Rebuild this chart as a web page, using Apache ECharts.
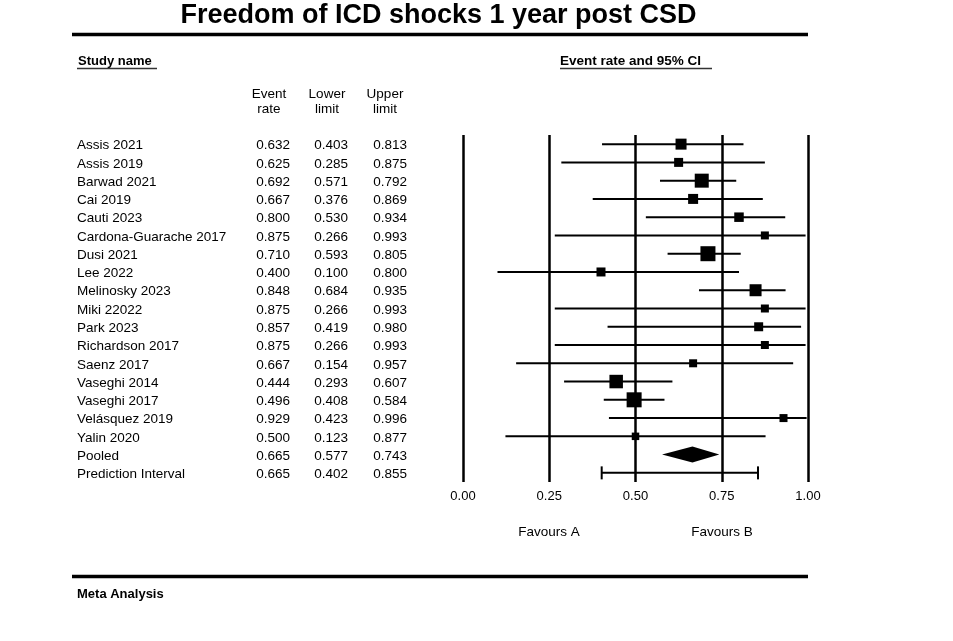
<!DOCTYPE html>
<html>
<head>
<meta charset="utf-8">
<script src="https://cdn.jsdelivr.net/npm/echarts@6/dist/echarts.min.js"></script>
<style>
html,body{margin:0;padding:0;background:#fff;}
#chart{width:953px;height:641px;}
</style>
</head>
<body>
<div id="chart"></div>
<script>
const studies = ["Assis 2021","Assis 2019","Barwad 2021","Cai 2019","Cauti 2023","Cardona-Guarache 2017","Dusi 2021","Lee 2022","Melinosky 2023","Miki 22022","Park 2023","Richardson 2017","Saenz 2017","Vaseghi 2014","Vaseghi 2017","Velásquez 2019","Yalin 2020"];
const eventRate = [0.632,0.625,0.692,0.667,0.800,0.875,0.710,0.400,0.848,0.875,0.857,0.875,0.667,0.444,0.496,0.929,0.500];
const lowerLimit = [0.403,0.285,0.571,0.376,0.530,0.266,0.593,0.100,0.684,0.266,0.419,0.266,0.154,0.293,0.408,0.423,0.123];
const upperLimit = [0.813,0.875,0.792,0.869,0.934,0.993,0.805,0.800,0.935,0.993,0.980,0.993,0.957,0.607,0.584,0.996,0.877];
const relativeWeight = [11,9,14,10,9.5,8,15,9,12,8,9,8,8,13.5,15,8,7.5];
const pooled = {label:"Pooled", rate:0.665, lower:0.577, upper:0.743};
const prediction = {label:"Prediction Interval", rate:0.665, lower:0.402, upper:0.855};
const xTicks = [0, 0.25, 0.5, 0.75, 1];

const rows = studies.concat([pooled.label, prediction.label]);
const FONT = '"Liberation Sans", Arial, sans-serif';

const chart = echarts.init(document.getElementById('chart'), null, {renderer:'canvas'});

function rowTexts(y, name, r, lo, hi){
  const ty = y + 1.5;
  const st = {fontFamily:FONT, fontSize:13.5, fill:'#000', verticalAlign:'middle'};
  return [
    {type:'text', style:Object.assign({}, st, {x:77, y:ty, text:name, align:'left'})},
    {type:'text', style:Object.assign({}, st, {x:290, y:ty, text:r.toFixed(3), align:'right'})},
    {type:'text', style:Object.assign({}, st, {x:348, y:ty, text:lo.toFixed(3), align:'right'})},
    {type:'text', style:Object.assign({}, st, {x:407, y:ty, text:hi.toFixed(3), align:'right'})}
  ];
}

const studyData = studies.map((s,i)=>[eventRate[i], i, lowerLimit[i], upperLimit[i], relativeWeight[i]]);
const summaryData = [
  [pooled.rate, studies.length, pooled.lower, pooled.upper, 0],
  [prediction.rate, studies.length+1, prediction.lower, prediction.upper, 1]
];

const option = {
  animation:false,
  backgroundColor:'#fff',
  grid:{left:463, right:145, top:135, bottom:159, containLabel:false},
  xAxis:{
    type:'value', min:0, max:1, interval:0.25,
    axisLine:{show:false}, axisTick:{show:false},
    splitLine:{show:true, showMinLine:true, showMaxLine:true, lineStyle:{color:'#000', width:2.5}},
    axisLabel:{formatter:v=>v.toFixed(2), fontFamily:FONT, fontSize:13, color:'#000', margin:8}
  },
  yAxis:{
    type:'category', data:rows, inverse:true,
    axisLine:{show:false}, axisTick:{show:false}, axisLabel:{show:false}, splitLine:{show:false}
  },
  series:[
    {
      type:'custom', clip:false,
      encode:{x:[0,2,3], y:1},
      data:studyData,
      renderItem:function(params, api){
        const idx = api.value(1);
        const c = api.coord([api.value(0), idx]);
        const l = api.coord([api.value(2), idx]);
        const h = api.coord([api.value(3), idx]);
        const s = api.value(4);
        const i = params.dataIndex;
        return {type:'group', children:[
          {type:'line', shape:{x1:l[0], y1:c[1], x2:h[0], y2:c[1]}, style:{stroke:'#000', lineWidth:2}},
          {type:'rect', shape:{x:c[0]-s/2, y:c[1]-s/2, width:s, height:s}, style:{fill:'#000'}}
        ].concat(rowTexts(c[1], studies[i], eventRate[i], lowerLimit[i], upperLimit[i]))};
      }
    },
    {
      type:'custom', clip:false,
      encode:{x:[0,2,3], y:1},
      data:summaryData,
      renderItem:function(params, api){
        const idx = api.value(1);
        const c = api.coord([api.value(0), idx]);
        const l = api.coord([api.value(2), idx]);
        const h = api.coord([api.value(3), idx]);
        const kind = api.value(4);
        const src = kind === 0 ? pooled : prediction;
        let shapes;
        if (kind === 0) {
          shapes = [{type:'polygon', shape:{points:[[l[0],c[1]],[c[0],c[1]-8],[h[0],c[1]],[c[0],c[1]+8]]}, style:{fill:'#000'}}];
        } else {
          shapes = [
            {type:'line', shape:{x1:l[0], y1:c[1], x2:h[0], y2:c[1]}, style:{stroke:'#000', lineWidth:2}},
            {type:'line', shape:{x1:l[0], y1:c[1]-6.5, x2:l[0], y2:c[1]+6.5}, style:{stroke:'#000', lineWidth:2}},
            {type:'line', shape:{x1:h[0], y1:c[1]-6.5, x2:h[0], y2:c[1]+6.5}, style:{stroke:'#000', lineWidth:2}}
          ];
        }
        return {type:'group', children:shapes.concat(rowTexts(c[1], src.label, src.rate, src.lower, src.upper))};
      }
    }
  ],
  graphic:[
    {type:'text', x:438.5, y:16, style:{text:'Freedom of ICD shocks 1 year post CSD', fontFamily:FONT, fontSize:27, fontWeight:'bold', fill:'#000', align:'center', verticalAlign:'middle'}},
    {type:'line', shape:{x1:72, y1:34.5, x2:808, y2:34.5}, style:{stroke:'#000', lineWidth:3.5}},
    {type:'text', x:78, y:61, style:{text:'Study name', fontFamily:FONT, fontSize:13, fontWeight:'bold', fill:'#000', verticalAlign:'middle'}},
    {type:'line', shape:{x1:77, y1:68.5, x2:157, y2:68.5}, style:{stroke:'#333', lineWidth:1.5}},
    {type:'text', x:560, y:61, style:{text:'Event rate and 95% CI', fontFamily:FONT, fontSize:13.5, fontWeight:'bold', fill:'#000', verticalAlign:'middle'}},
    {type:'line', shape:{x1:560, y1:68.5, x2:712, y2:68.5}, style:{stroke:'#333', lineWidth:1.5}},
    {type:'text', x:269, y:101.5, style:{text:'Event\nrate', fontFamily:FONT, fontSize:13.5, lineHeight:15, fill:'#000', align:'center', verticalAlign:'middle'}},
    {type:'text', x:327, y:101.5, style:{text:'Lower\nlimit', fontFamily:FONT, fontSize:13.5, lineHeight:15, fill:'#000', align:'center', verticalAlign:'middle'}},
    {type:'text', x:385, y:101.5, style:{text:'Upper\nlimit', fontFamily:FONT, fontSize:13.5, lineHeight:15, fill:'#000', align:'center', verticalAlign:'middle'}},
    {type:'text', x:549, y:532, style:{text:'Favours A', fontFamily:FONT, fontSize:13.5, fill:'#000', align:'center', verticalAlign:'middle'}},
    {type:'text', x:722, y:532, style:{text:'Favours B', fontFamily:FONT, fontSize:13.5, fill:'#000', align:'center', verticalAlign:'middle'}},
    {type:'line', shape:{x1:72, y1:576.5, x2:808, y2:576.5}, style:{stroke:'#000', lineWidth:3.5}},
    {type:'text', x:77, y:594, style:{text:'Meta Analysis', fontFamily:FONT, fontSize:13, fontWeight:'bold', fill:'#000', verticalAlign:'middle'}}
  ]
};
chart.setOption(option);
</script>
</body>
</html>
